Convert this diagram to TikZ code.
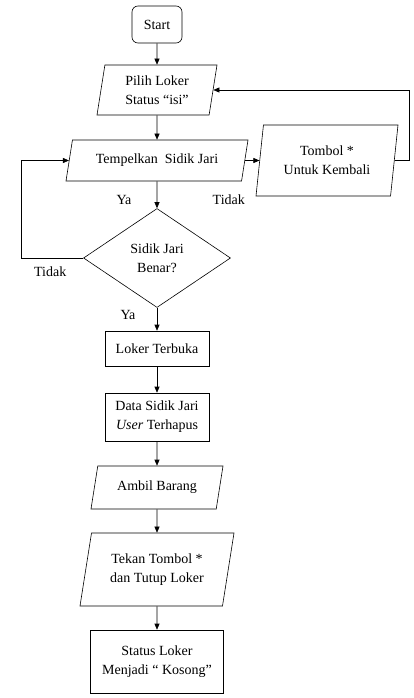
\documentclass[tikz,border=0pt]{standalone}
\usepackage{fontspec}
\setmainfont{Liberation Serif}
\usetikzlibrary{arrows.meta,shapes.geometric,positioning}

\begin{document}
\begin{tikzpicture}[x=1pt,y=1pt,node distance=70pt,on grid,>={Triangle[length=6pt,width=5pt]},
  every node/.style={font=\fontsize{14}{19}\selectfont,align=center},
  term/.style={draw,line width=0.6pt,rounded corners=6pt,minimum width=50pt,minimum height=37pt},
  io/.style={draw,line width=0.6pt,trapezium,trapezium left angle=81,trapezium right angle=99,trapezium stretches body,inner xsep=2pt},
  proc/.style={draw,line width=0.6pt,rectangle},
  dec/.style={draw,line width=0.6pt,diamond,aspect=1.5,minimum width=147pt,minimum height=99pt,inner sep=1pt}]
\useasboundingbox (0,0) rectangle (414,-698);

\node[term] (s_0) at (157,-24.5) {Start};
\node[io,inner ysep=10.5pt,minimum width=120pt,minimum height=50pt] (s_1) [below=65.5pt of s_0] {Pilih Loker\\Status “isi”};
\node[io,inner ysep=14pt,minimum width=182pt,minimum height=41pt] (s_2) [below=70.5pt of s_1] {Tempelkan\ \ Sidik Jari};
\node[io,inner ysep=21pt,trapezium left angle=84,trapezium right angle=96,minimum width=142pt,minimum height=71pt] (s_8) [right=170pt of s_2] {Tombol *\\Untuk Kembali};
\node[dec] (s_3) [below=97.5pt of s_2] {Sidik Jari\\Benar?};
\node[proc,minimum width=104pt,minimum height=35pt] (s_4) [below=90.5pt of s_3] {Loker Terbuka};
\node[proc,minimum width=104pt,minimum height=48pt] (s_5) [below=68.5pt of s_4] {Data Sidik Jari\\\textit{User} Terhapus};
\node[io,inner ysep=15pt,minimum width=132pt,minimum height=43pt] (s_6) [below=70.5pt of s_5] {Ambil Barang};
\node[io,inner ysep=20.5pt,minimum width=154pt,minimum height=73pt] (s_7) [below=82pt of s_6] {Tekan Tombol *\\dan Tutup Loker};
\node[proc,minimum width=133pt,minimum height=63pt] (s_9) [below=92pt of s_7] {Status Loker\\Menjadi “ Kosong"};

% labels
\node (l_0) at ([xshift=-33pt,yshift=8pt]s_3.north) {Ya};
\node (l_1) at ([xshift=-13pt,yshift=-18pt]s_2.bottom right corner) {Tidak};
\node (l_2) at ([xshift=-33pt,yshift=-14pt]s_3.west) {Tidak};
\node (l_3) at ([xshift=-29pt,yshift=-7pt]s_3.south) {Ya};

\path[->,line width=0.6pt] (s_0) edge (s_1)
  (s_1) edge (s_2)
  (s_2) edge (s_8)
  (s_2) edge (s_3)
  (s_3) edge (s_4)
  (s_4) edge (s_5)
  (s_5) edge (s_6)
  (s_6) edge (s_7)
  (s_7) edge (s_9);
\draw[->,line width=0.6pt] (s_8.east) -- ++(15,0) |- (s_1.east);
\draw[->,line width=0.6pt] (s_3.west) -- ++(-62,0) |- (s_2.west);
\end{tikzpicture}
\end{document}
